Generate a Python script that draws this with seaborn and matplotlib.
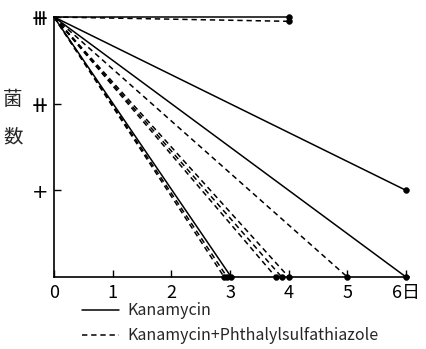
import numpy as np
import pandas as pd
import matplotlib
matplotlib.use("Agg")
import matplotlib.pyplot as plt
import seaborn as sns

# bacterial count: 3 = +++, 2 = ++, 1 = +, 0 = none
start_day = 0
start_level = 3
solid_end_days = [4, 6, 6, 3.02]
solid_end_levels = [3, 1, 0, 0]
dashed_end_days = [4, 5, 4.0, 3.88, 3.78, 2.95, 2.9]
dashed_end_levels = [2.95, 0, 0, 0, 0, 0, 0]

solid_label = "Kanamycin"
dashed_label = "Kanamycin+Phthalylsulfathiazole"

x_ticks = [0, 1, 2, 3, 4, 5, 6]
x_labels = ["0", "1", "2", "3", "4", "5", "6日"]
y_ticks = [1, 2, 3]
y_labels = ["+", "⧺", "⧻"]

rows = []
line_id = 0
for label, days, levels in [(solid_label, solid_end_days, solid_end_levels),
                            (dashed_label, dashed_end_days, dashed_end_levels)]:
    for d, l in zip(days, levels):
        rows.append({"line": line_id, "day": start_day, "level": start_level, "drug": label})
        rows.append({"line": line_id, "day": d, "level": l, "drug": label})
        line_id += 1
df = pd.DataFrame(rows)
ends = df.groupby("line").tail(1)

sns.set_style("ticks")
plt.rcParams["font.family"] = ["Noto Sans CJK JP", "DejaVu Sans"]

fig = plt.figure(figsize=(4.26, 3.49), dpi=100)
W, H = 426, 349
ax = fig.add_axes([54 / W, (H - 277) / H, (406 - 54) * 6.05 / 6 / W, 260 / H])

sns.lineplot(data=df, x="day", y="level", units="line", style="drug",
             estimator=None, color="black", linewidth=1.1, ax=ax,
             dashes={solid_label: "", dashed_label: (3.5, 2.5)},
             style_order=[solid_label, dashed_label])
for ln in ax.lines:
    ln.set_clip_on(False)
sns.scatterplot(data=ends, x="day", y="level", color="black", s=18,
                edgecolor="black", ax=ax, legend=False, clip_on=False, zorder=5)

ax.set_xlim(0, 6.05)
ax.set_ylim(0, 3)
ax.set_xticks(x_ticks)
ax.set_xticklabels(x_labels, fontsize=13)
ax.set_yticks(y_ticks)
ax.set_yticklabels(y_labels)
for t, size in zip(ax.get_yticklabels(), [14, 15.5, 15.5]):
    t.set_fontfamily(["DejaVu Sans", "Noto Sans CJK JP"])
    t.set_fontsize(size)
ax.tick_params(axis="both", direction="in", length=5, width=1, colors="black")
ax.tick_params(axis="y", pad=4)
ax.tick_params(axis="x", pad=5)
ax.set_xlabel("")
ax.set_ylabel("")
sns.despine(ax=ax)
for sp in ["left", "bottom"]:
    ax.spines[sp].set_linewidth(1.2)
    ax.spines[sp].set_color("black")

fig.text(13 / W, 1 - 118 / H, "菌\n\n数", fontsize=14, ha="center", va="center",
         linespacing=0.85)

sns.move_legend(ax, "upper left", bbox_to_anchor=(76 / W, 1 - 296 / H),
                bbox_transform=fig.transFigure, frameon=False, title=None,
                fontsize=11.5, handlelength=2.3, handletextpad=0.5,
                labelspacing=0.5, borderaxespad=0)

fig.savefig("out.png", dpi=100)
